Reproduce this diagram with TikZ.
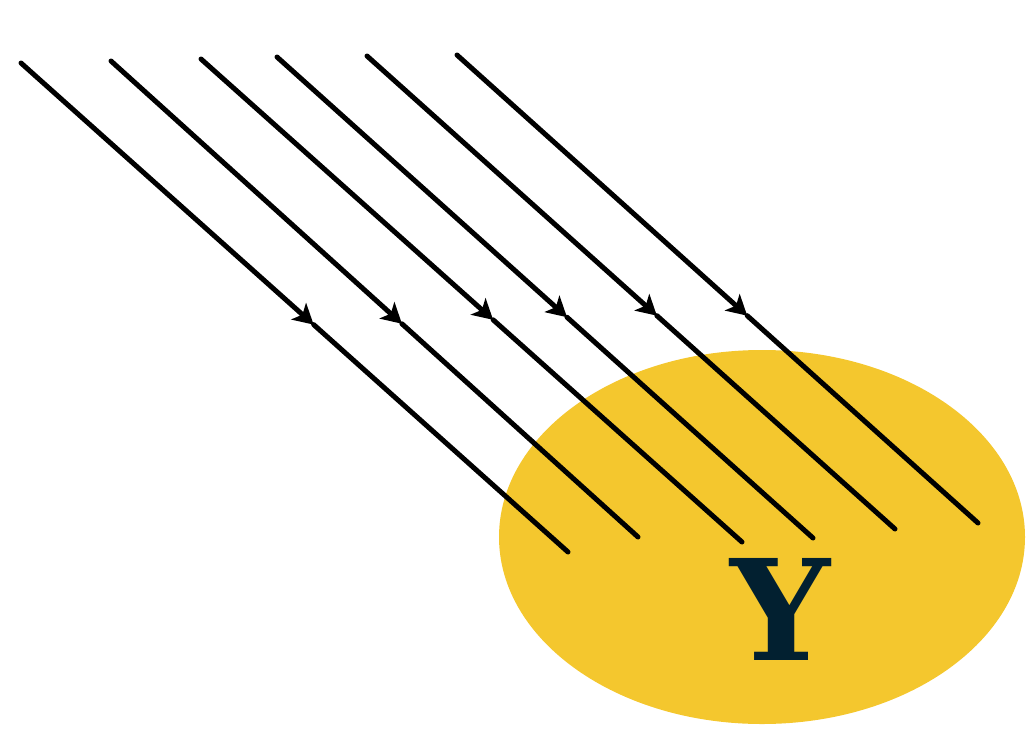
\documentclass[tikz,border=0pt]{standalone}
\usepackage{fontspec}
\newfontfamily\yfont{DejaVu Serif}
\usetikzlibrary{arrows.meta,calc}
\definecolor{sunyellow}{RGB}{244,199,46}
\definecolor{ynavy}{RGB}{2,32,48}
\tikzset{
  ray/.style={line width=5pt, black, line cap=round},
  rayhead/.style={ray, -{Stealth[length=20pt,width=22pt,inset=5pt]}},
}
\begin{document}
\begin{tikzpicture}[x=1pt,y=-1pt]
\useasboundingbox (0,0) rectangle (1027,736);
\fill[sunyellow] (762,537) ellipse [x radius=263, y radius=187];
\node[font=\yfont\bfseries\fontsize{140}{150}\selectfont, text=ynavy, inner sep=0pt] (Y) at (780,609) {Y};
% rays
\coordinate (s1) at (21,63);   \coordinate (e1) at (568,552);
\coordinate (s2) at (111,61);  \coordinate (e2) at (638,537);
\coordinate (s3) at (201,59);  \coordinate (e3) at (742,542);
\coordinate (s4) at (277,57);  \coordinate (e4) at (813,538);
\coordinate (s5) at (367,56);  \coordinate (e5) at (895,529);
\coordinate (s6) at (457,55);  \coordinate (e6) at (978,523);
\coordinate (m1) at ($(s1)!0.535!(e1)$);
\coordinate (m2) at ($(s2)!0.552!(e2)$);
\coordinate (m3) at ($(s3)!0.540!(e3)$);
\coordinate (m4) at ($(s4)!0.541!(e4)$);
\coordinate (m5) at ($(s5)!0.549!(e5)$);
\coordinate (m6) at ($(s6)!0.557!(e6)$);
\foreach \i in {1,...,6}{
  \draw[ray] (m\i) -- (e\i);
  \draw[rayhead] (s\i) -- (m\i);
}
\end{tikzpicture}
\end{document}
